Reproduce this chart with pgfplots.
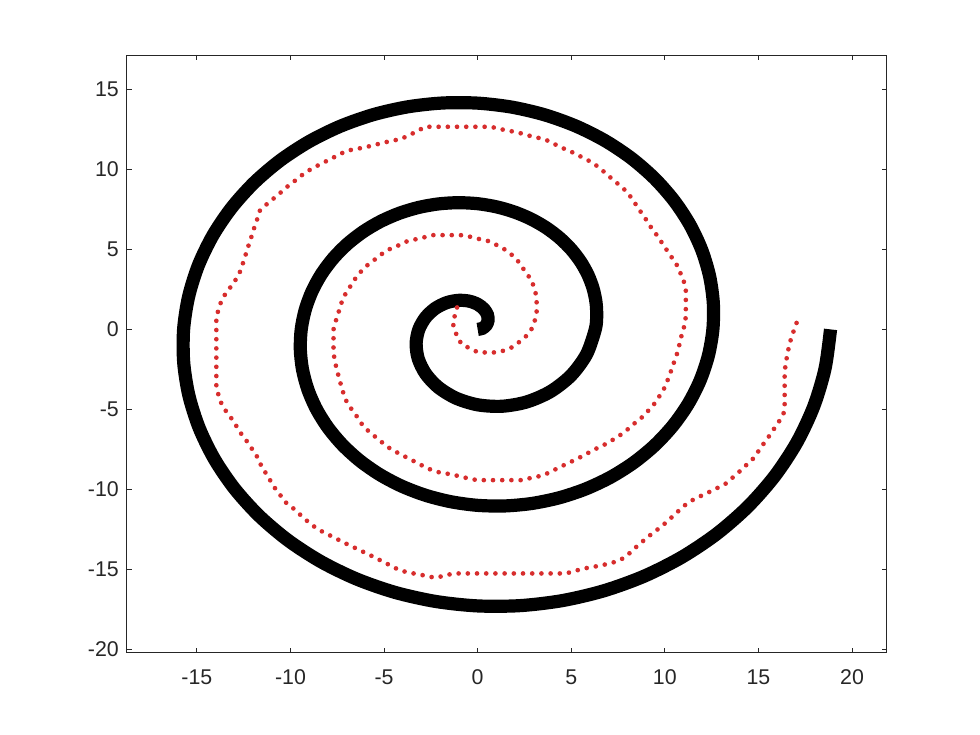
\documentclass[border=0pt]{standalone}
\usepackage{fontspec}
\setmainfont{Liberation Sans}
\usepackage{pgfplots}
\pgfplotsset{compat=1.18}
\definecolor{axgray}{RGB}{38,38,38}
\definecolor{dotred}{RGB}{215,45,45}
\begin{document}
\begin{tikzpicture}
\path[use as bounding box] (-95.0pt,-61.7pt) rectangle (640.0pt,489.5pt);
\begin{axis}[at={(0pt,0pt)}, anchor=south west, scale only axis,
  width=570pt, height=448.3pt,
  xmin=-18.75, xmax=21.85, ymin=-20.2, ymax=17.15,
  xtick={-15,-10,...,20}, ytick={-20,-15,...,15},
  tick align=inside, major tick length=3.75pt,
  axis line style={axgray, line width=0.6pt},
  tick style={axgray, line width=0.6pt},
  ticklabel style={font=\fontsize{16}{19}\selectfont, text=axgray},
  xticklabel style={yshift=-9.5pt},
  yticklabel style={xshift=-2.4pt},
  /pgf/number format/assume math mode=true,
  clip=true]
\addplot[black, line width=9.9pt, smooth, line cap=butt] coordinates {
(0,0) (0.2529,0.0678) (0.4534,0.2618) (0.5554,0.5554) (0.5236,0.9069) (0.3388,1.2644)
(0,1.5708) (-0.4743,1.7702) (-1.0472,1.8138) (-1.6661,1.6661) (-2.2672,1.3090) (-2.7817,0.7454)
(-3.1416,0) (-3.2874,-0.8809) (-3.1742,-1.8326) (-2.7768,-2.7768) (-2.0944,-3.6276) (-1.1519,-4.2990)
(0,-4.7124) (1.2874,-4.8047) (2.6180,-4.5345) (3.8875,-3.8875) (4.9880,-2.8798) (5.8163,-1.5585)
(6.2832,0) (6.3592,0.8372) (6.3220,1.6940) (6.1677,2.5547) (5.8949,3.4034) (5.5040,4.2234)
(4.9982,4.9982) (4.3828,5.7117) (3.6652,6.3484) (2.8553,6.8933) (1.9650,7.3336) (1.0081,7.6570)
(0,7.8540) (-1.0423,7.9166) (-2.1005,7.8393) (-3.1558,7.6190) (-4.1888,7.2552) (-5.1797,6.7503)
(-6.1090,6.1090) (-6.9580,5.3391) (-7.7087,4.4506) (-8.3446,3.4564) (-8.8509,2.3716) (-9.2144,1.2131)
(-9.4248,0) (-9.4739,-1.2473) (-9.3566,-2.5071) (-9.0702,-3.7570) (-8.6156,-4.9742) (-7.9964,-6.1359)
(-7.2197,-7.2197) (-6.2953,-8.2041) (-5.2360,-9.0690) (-4.0575,-9.7958) (-2.7781,-10.3682) (-1.4182,-10.7717)
(0,-10.9956) (1.4523,-11.0313) (2.9136,-10.8738) (4.3581,-10.5214) (5.7596,-9.9759) (7.0921,-9.2426)
(8.3305,-8.3305) (9.4503,-7.2515) (10.4294,-6.0214) (11.2470,-4.6586) (11.8853,-3.1847) (12.3291,-1.6232)
(12.5664,0) (12.5886,1.6574) (12.3912,3.3202) (11.9726,4.9592) (11.3363,6.5450) (10.4889,8.0484)
(9.4413,9.4413) (8.2077,10.6965) (6.8068,11.7897) (5.2598,12.6982) (3.5912,13.4028) (1.8282,13.8864)
(0,14.1372) (-1.8624,14.1460) (-3.7268,13.9085) (-5.5603,13.4239) (-7.3304,12.6966) (-9.0046,11.7350)
(-10.5520,10.5520) (-11.9427,9.1640) (-13.1501,7.5922) (-14.1495,5.8609) (-14.9200,3.9978) (-15.4438,2.0333)
(-15.7080,0) (-15.7033,-2.0674) (-15.4258,-4.1333) (-14.8751,-6.1614) (-14.0570,-8.1158) (-12.9812,-9.9610)
(-11.6626,-11.6626) (-10.1202,-13.1891) (-8.3776,-14.5104) (-6.4620,-15.6007) (-4.4044,-16.4372) (-2.2383,-17.0011)
(0,-17.2788) (2.2725,-17.2607) (4.5399,-16.9429) (6.7626,-16.3263) (8.9012,-15.4173) (10.9171,-14.2273)
(12.7734,-12.7734) (14.4350,-11.0765) (15.8708,-9.1630) (17.0521,-7.0631) (17.9545,-4.8109) (18.5585,-2.4433)
(18.8496,0)
};
\addplot[dotred, line width=3.5pt, line cap=round, line join=round, dash pattern=on 0pt off 6.9pt] coordinates {
(-1.10,1.37) (-1.21,0.89) (-1.34,0.41) (-1.21,-0.04) (-1.09,-0.5) (-0.84,-0.94) (-0.41,-1.19) (0.03,-1.44)
(1.03,-1.44) (1.51,-1.29) (1.94,-1.06) (2.30,-0.71) (2.65,-0.36) (2.90,0.06) (3.05,0.54) (3.15,1.04)
(3.15,2.04) (3.03,2.52) (2.90,3.02) (2.64,3.46) (2.39,3.87) (2.14,4.29) (1.82,4.66) (1.44,5.0)
(1.02,5.27) (0.57,5.52) (0.1,5.64) (-0.41,5.79) (-0.91,5.89) (-2.37,5.89) (-2.87,5.75) (-3.35,5.62)
(-3.83,5.48) (-4.30,5.21) (-4.73,5.0) (-5.12,4.71) (-5.49,4.37) (-5.88,4.02) (-6.2,3.66) (-6.47,3.29)
(-6.71,2.87) (-6.92,2.46) (-7.19,1.98) (-7.31,1.52) (-7.45,1.0) (-7.58,0.52) (-7.7,0) (-7.7,-1.46)
(-7.63,-1.96) (-7.54,-2.44) (-7.42,-2.96) (-7.31,-3.44) (-7.19,-3.92) (-7.06,-4.38) (-6.83,-4.84) (-6.56,-5.25)
(-6.33,-5.67) (-6.06,-6.13) (-5.72,-6.46) (-5.37,-6.81) (-4.99,-7.17) (-4.64,-7.48) (-4.21,-7.75) (-3.76,-8.02)
(-3.35,-8.27) (-2.91,-8.54) (-2.46,-8.79) (-1.98,-8.96) (-1.48,-9.04) (-1.0,-9.17) (-0.5,-9.31) (-0.02,-9.42)
(2.44,-9.42) (2.92,-9.25) (3.42,-9.15) (3.87,-8.92) (4.31,-8.65) (4.72,-8.42) (5.17,-8.17) (5.59,-7.92)
(6.01,-7.65) (6.45,-7.38) (6.9,-7.13) (7.3,-6.84) (7.7,-6.54) (8.05,-6.21) (8.41,-5.84) (8.77,-5.5)
(9.09,-5.11) (9.39,-4.73) (9.63,-4.31) (9.87,-3.9) (10.07,-3.44) (10.21,-2.96) (10.37,-2.48) (10.5,-2.02)
(10.64,-1.56) (10.75,-1.09) (10.85,-0.56) (10.98,-0.04) (11.09,0.44) (11.12,0.92) (11.12,2.46) (11.03,2.94)
(10.87,3.39) (10.73,3.87) (10.46,4.33) (10.23,4.75) (9.98,5.16) (9.75,5.58) (9.48,6.04) (9.21,6.46)
(8.98,6.89) (8.73,7.31) (8.47,7.77) (8.23,8.19) (7.97,8.6) (7.61,8.98) (7.25,9.33) (6.9,9.69)
(6.54,10.06) (6.18,10.38) (5.78,10.64) (5.35,10.89) (4.9,11.16) (4.45,11.37) (4.04,11.62) (3.6,11.87)
(3.12,12.0) (2.62,12.14) (2.14,12.31) (1.67,12.41) (1.19,12.52) (0.71,12.66) (-2.82,12.66) (-3.21,12.39)
(-3.66,12.14) (-4.1,11.89) (-4.57,11.79) (-5.05,11.66) (-5.53,11.52) (-6.03,11.37) (-6.51,11.27) (-7.01,11.16)
(-7.45,10.89) (-7.9,10.62) (-8.31,10.38) (-8.74,10.12) (-9.14,9.85) (-9.5,9.54) (-9.89,9.16) (-10.25,8.85)
(-10.61,8.46) (-10.96,8.12) (-11.32,7.77) (-11.64,7.41) (-11.76,6.94) (-11.91,6.46) (-12.03,5.96) (-12.18,5.48)
(-12.3,5.0) (-12.44,4.5) (-12.57,4.02) (-12.71,3.56) (-12.94,3.08) (-13.19,2.66) (-13.46,2.25) (-13.69,1.79)
(-13.82,1.31) (-13.96,0.79) (-13.96,-3.65) (-13.83,-4.15) (-13.69,-4.63) (-13.46,-5.08) (-13.19,-5.5) (-12.94,-5.94)
(-12.71,-6.4) (-12.44,-6.81) (-12.18,-7.23) (-11.95,-7.67) (-11.68,-8.13) (-11.55,-8.58) (-11.28,-9.04) (-11.07,-9.46)
(-10.84,-9.9) (-10.57,-10.31) (-10.3,-10.77) (-9.95,-11.08) (-9.59,-11.46) (-9.27,-11.81) (-8.91,-12.17) (-8.52,-12.5)
(-8.11,-12.75) (-7.67,-13.0) (-7.24,-13.27) (-6.79,-13.52) (-6.38,-13.75) (-5.94,-14.0) (-5.49,-14.25) (-5.05,-14.52)
(-4.6,-14.79) (-4.19,-15.04) (-3.71,-15.19) (-3.23,-15.29) (-2.76,-15.4) (-2.28,-15.52) (-1.8,-15.4) (-1.3,-15.25)
(4.72,-15.25) (5.2,-15.09) (5.68,-14.94) (6.18,-14.84) (6.66,-14.73) (7.17,-14.59) (7.61,-14.42) (8.0,-14.11)
(8.32,-13.75) (8.68,-13.38) (9.04,-13.02) (9.39,-12.69) (9.75,-12.38) (10.11,-12.02) (10.43,-11.67) (10.78,-11.29)
(11.14,-10.92) (11.53,-10.63) (11.94,-10.4) (12.39,-10.15) (12.82,-9.9) (13.26,-9.63) (13.61,-9.27) (13.97,-8.9)
(14.29,-8.54) (14.65,-8.17) (14.92,-7.75) (15.15,-7.34) (15.42,-6.92) (15.67,-6.5) (15.9,-6.09) (16.17,-5.63)
(16.38,-5.15) (16.4,-4.67) (16.4,-2.6) (16.52,-1.71) (16.61,-1.19) (16.72,-0.67) (16.85,-0.21) (16.98,0.27)
(17.18,0.75)
};
\end{axis}
\end{tikzpicture}
\end{document}
